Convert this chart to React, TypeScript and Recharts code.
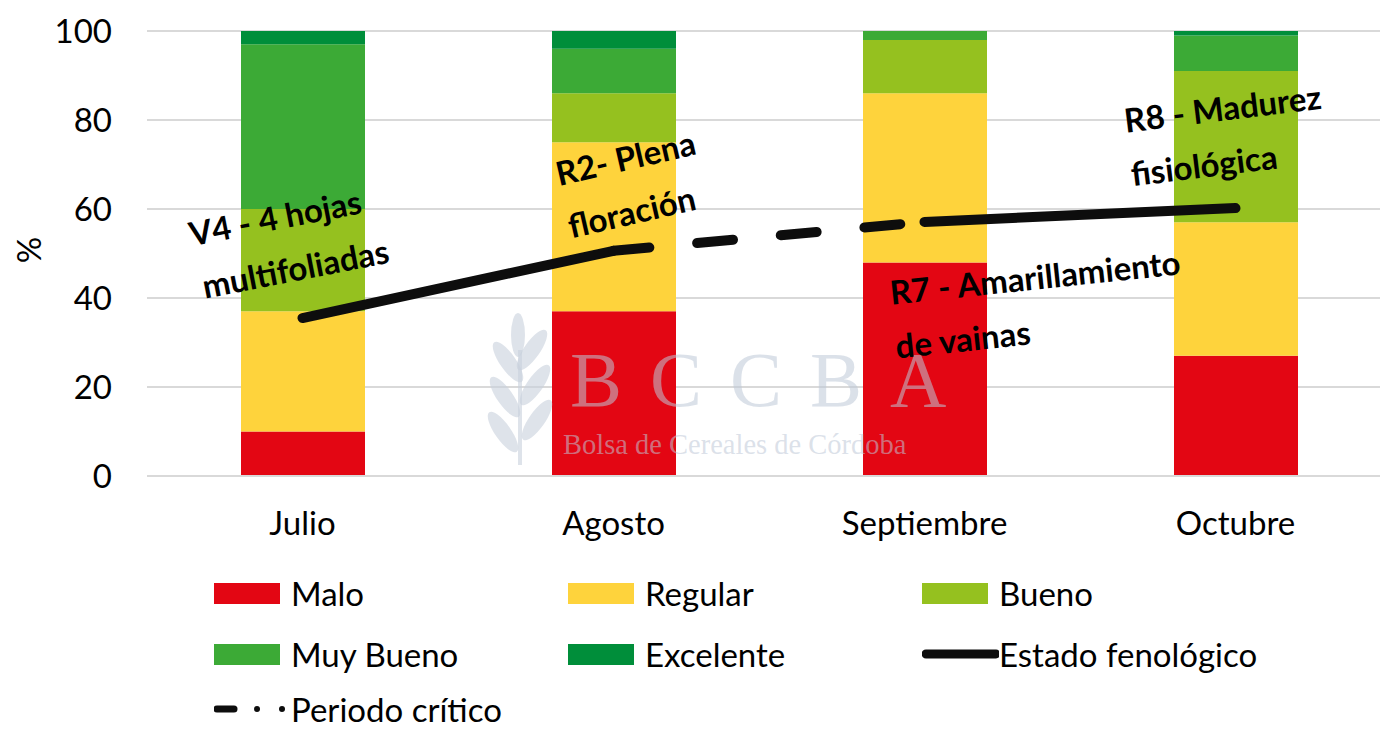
import { Bar, ComposedChart, Line, XAxis, YAxis, CartesianGrid } from 'recharts';

const months = ['Julio', 'Agosto', 'Septiembre', 'Octubre'];
const malo = [10, 37, 48, 27];
const regular = [27, 38, 38, 30];
const bueno = [23, 11, 12, 34];
const muyBueno = [37, 10, 2, 8];
const excelente = [3, 4, 0, 1];
// estado fenológico, partido en tramo sólido / periodo crítico / tramo sólido
const estadoInicio = [35.5, 50.6, null, null];
const estadoFin = [null, null, 57.1, 60.2];
const periodoCritico = [null, 50.6, 57.1, null];
const yTicks = [0, 20, 40, 60, 80, 100];

const data = months.map((m, i) => ({
  month: m,
  malo: malo[i],
  regular: regular[i],
  bueno: bueno[i],
  muyBueno: muyBueno[i],
  excelente: excelente[i],
  estadoInicio: estadoInicio[i],
  estadoFin: estadoFin[i],
  periodoCritico: periodoCritico[i],
}));

const COLORS = {
  malo: '#e30613',
  regular: '#fed33c',
  bueno: '#95c11f',
  muyBueno: '#3caa36',
  excelente: '#008e3a',
};

const FONT = 'Lato, "Open Sans", sans-serif';
const FS = 33;

type Annot = { lines: string[]; left: number; top: number; angle: number; indent: number };
const annotations: Annot[] = [
  { lines: ['V4 - 4 hojas', 'multifoliadas'], left: 184, top: 207, angle: -11, indent: 3 },
  { lines: ['R2- Plena', 'floración'], left: 550, top: 147, angle: -13, indent: -2 },
  { lines: ['R7 - Amarillamiento', 'de vainas'], left: 887, top: 265, angle: -6, indent: 0 },
  { lines: ['R8 - Madurez', 'fisiológica'], left: 1121, top: 93, angle: -7, indent: -2 },
];

type LegendItem = { label: string; kind: 'box' | 'line' | 'dash'; color: string; x: number; y: number };
const legendItems: LegendItem[] = [
  { label: 'Malo', kind: 'box', color: COLORS.malo, x: 214, y: 593 },
  { label: 'Regular', kind: 'box', color: COLORS.regular, x: 568, y: 593 },
  { label: 'Bueno', kind: 'box', color: COLORS.bueno, x: 922, y: 593 },
  { label: 'Muy Bueno', kind: 'box', color: COLORS.muyBueno, x: 214, y: 654 },
  { label: 'Excelente', kind: 'box', color: COLORS.excelente, x: 568, y: 654 },
  { label: 'Estado fenológico', kind: 'line', color: '#0d0d0d', x: 922, y: 654 },
  { label: 'Periodo crítico', kind: 'dash', color: '#0d0d0d', x: 214, y: 709 },
];

const LegendMark = ({ item }: { item: LegendItem }) => {
  if (item.kind === 'box') {
    return <div style={{ width: 66, height: 21, background: item.color }} />;
  }
  if (item.kind === 'line') {
    return (
      <svg width={78} height={14}>
        <line x1={4} y1={7} x2={74} y2={7} stroke={item.color} strokeWidth={9} strokeLinecap="round" />
      </svg>
    );
  }
  return (
    <svg width={78} height={14}>
      <line x1={3} y1={7} x2={20} y2={7} stroke={item.color} strokeWidth={7} strokeLinecap="round" />
      <circle cx={43} cy={7} r={3} fill={item.color} />
      <circle cx={68} cy={7} r={3} fill={item.color} />
    </svg>
  );
};

// hojas del logo de la marca de agua (espiga estilizada)
const wheatLeaves = [
  { cx: 532, cy: 350, rot: 35 },
  { cx: 508, cy: 362, rot: -35 },
  { cx: 535, cy: 385, rot: 35 },
  { cx: 505, cy: 397, rot: -35 },
  { cx: 537, cy: 420, rot: 35 },
  { cx: 503, cy: 432, rot: -35 },
];

const Watermark = () => (
  <>
    <svg
      width={120}
      height={170}
      viewBox="470 310 120 170"
      style={{ position: 'absolute', left: 470, top: 310, pointerEvents: 'none' }}
    >
      <ellipse cx={518} cy={335} rx={7} ry={22} fill="rgba(200,208,220,0.6)" />
      {wheatLeaves.map((l) => (
        <ellipse
          key={`${l.cx}-${l.cy}`}
          cx={l.cx}
          cy={l.cy}
          rx={8}
          ry={24}
          transform={`rotate(${l.rot} ${l.cx} ${l.cy})`}
          fill="rgba(200,208,220,0.6)"
        />
      ))}
      <line x1={520} y1={350} x2={520} y2={465} stroke="rgba(200,208,220,0.6)" strokeWidth={4} />
    </svg>
    <div
      style={{
        position: 'absolute',
        left: 570,
        top: 337,
        fontFamily: '"Liberation Serif", serif',
        color: 'rgba(190, 200, 215, 0.55)',
        pointerEvents: 'none',
        whiteSpace: 'nowrap',
      }}
    >
      <div style={{ fontSize: 78, letterSpacing: 28, lineHeight: '86px' }}>BCCBA</div>
      <div style={{ fontSize: 28.5, lineHeight: '40px', marginTop: 2, marginLeft: -7 }}>
        Bolsa de Cereales de Córdoba
      </div>
    </div>
  </>
);

const App = () => {
  return (
    <div
      style={{
        position: 'absolute',
        left: 0,
        top: 0,
        width: 1380,
        height: 729,
        overflow: 'hidden',
        background: '#fff',
        fontFamily: FONT,
      }}
    >
      <ComposedChart
        width={1400}
        height={729}
        data={data}
        margin={{ top: 31, right: 9, bottom: 193, left: 0 }}
        barCategoryGap="30%"
      >
        <CartesianGrid vertical={false} stroke="#d9d9d9" strokeWidth={2} />
        <XAxis
          dataKey="month"
          axisLine={{ stroke: '#d9d9d9', strokeWidth: 2 }}
          tickLine={false}
          tickSize={0}
          tickMargin={36}
          height={60}
          tick={{ fill: '#000', fontSize: FS, fontFamily: FONT }}
        />
        <YAxis
          domain={[0, 100]}
          ticks={yTicks}
          axisLine={false}
          tickLine={false}
          tickSize={0}
          tickMargin={35}
          width={147}
          tick={{ fill: '#000', fontSize: FS, fontFamily: FONT }}
        />
        <Bar dataKey="malo" stackId="a" fill={COLORS.malo} barSize={124} isAnimationActive={false} />
        <Bar dataKey="regular" stackId="a" fill={COLORS.regular} barSize={124} isAnimationActive={false} />
        <Bar dataKey="bueno" stackId="a" fill={COLORS.bueno} barSize={124} isAnimationActive={false} />
        <Bar dataKey="muyBueno" stackId="a" fill={COLORS.muyBueno} barSize={124} isAnimationActive={false} />
        <Bar dataKey="excelente" stackId="a" fill={COLORS.excelente} barSize={124} isAnimationActive={false} />
        <Line
          dataKey="estadoInicio"
          type="linear"
          stroke="#0d0d0d"
          strokeWidth={10}
          strokeLinecap="round"
          dot={false}
          activeDot={false}
          isAnimationActive={false}
        />
        <Line
          dataKey="periodoCritico"
          type="linear"
          stroke="#0d0d0d"
          strokeWidth={10}
          strokeLinecap="round"
          strokeDasharray="36 48"
          dot={false}
          activeDot={false}
          isAnimationActive={false}
        />
        <Line
          dataKey="estadoFin"
          type="linear"
          stroke="#0d0d0d"
          strokeWidth={10}
          strokeLinecap="round"
          dot={false}
          activeDot={false}
          isAnimationActive={false}
        />
      </ComposedChart>

      <Watermark />

      <div
        style={{
          position: 'absolute',
          left: 28,
          top: 250,
          transform: 'translate(-50%, -50%) rotate(-90deg)',
          fontSize: FS,
          lineHeight: '40px',
        }}
      >
        %
      </div>

      {annotations.map((a) => (
        <div
          key={a.lines[0]}
          style={{
            position: 'absolute',
            left: a.left,
            top: a.top,
            transform: `rotate(${a.angle}deg)`,
            transformOrigin: 'left top',
            fontWeight: 700,
            fontSize: FS,
            lineHeight: '54px',
            color: '#000',
            whiteSpace: 'nowrap',
          }}
        >
          {a.lines.map((l, i) => (
            <div key={l} style={{ paddingLeft: i === 1 ? a.indent : 0 }}>
              {l}
            </div>
          ))}
        </div>
      ))}

      {legendItems.map((item) => (
        <div
          key={item.label}
          style={{
            position: 'absolute',
            left: item.x,
            top: item.y - 15,
            height: 30,
            lineHeight: '30px',
            display: 'flex',
            alignItems: 'center',
            fontSize: FS,
            color: '#000',
            whiteSpace: 'nowrap',
          }}
        >
          <div style={{ width: 77, display: 'flex', alignItems: 'center' }}>
            <LegendMark item={item} />
          </div>
          <span>{item.label}</span>
        </div>
      ))}
    </div>
  );
};

export default App;
